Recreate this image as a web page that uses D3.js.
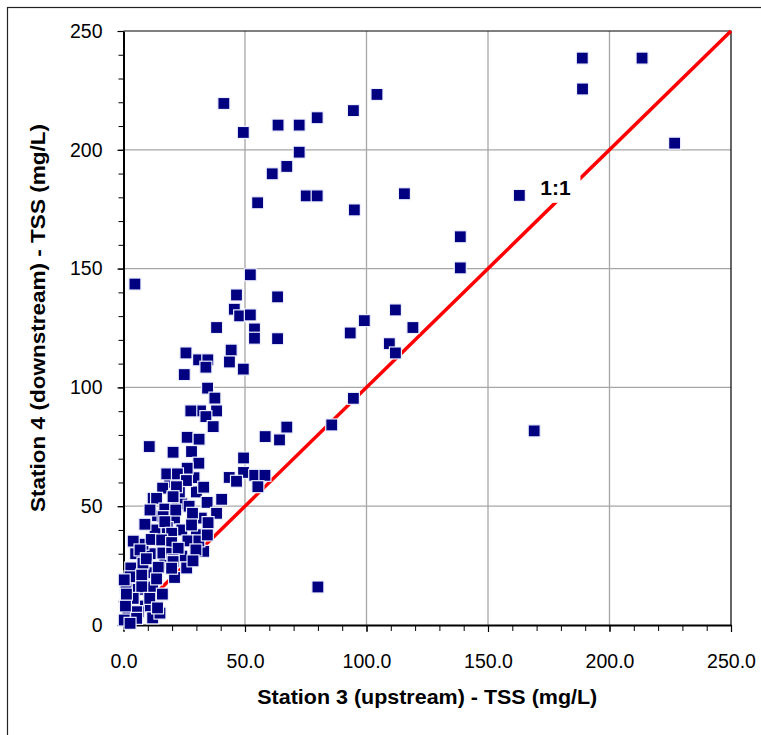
<!DOCTYPE html>
<html>
<head>
<meta charset="utf-8">
<script src="https://cdn.jsdelivr.net/npm/d3@7"></script>
<style>
  body { margin: 0; background: #fff; }
  text { font-family: "Liberation Sans", Arial, sans-serif; }
</style>
</head>
<body>
<svg id="chart" width="761" height="735"></svg>
<script>
// TSS pairs: upstream (station 3) vs downstream (station 4), mg/L
// the dense low corner comes first so the later ones sit on top
const station3 = [
  3, 5, 11, 8, 13, 21, 24, 12, 16, 2, 6, 10, 18, 24, 14, 30, 27, 32, 24, 17, 21, 9, 1, 12, 4,
  23, 19, 29, 33, 33, 30, 15, 8, 26,
  41.3, 49.3, 63.6, 72.3, 79.7, 94.6, 104.3, 72.3, 67.2, 61.2, 55.2, 75.2, 79.7, 95, 115.6,
  188.8, 213.4, 188.9, 226.8, 162.9, 138.6, 138.6, 169, 80, 4.7,
  52.2, 46.5, 63.4, 45.6, 47.8, 52.2, 38.3, 53.9, 53.9, 63.4, 25.7, 44.3, 30.9, 34.7, 33.9,
  43.6, 49.3, 25, 34.6, 37.6, 38.3, 31.7, 27.7, 33.9, 36.9, 10.6, 26.2, 31.1, 20.4, 28,
  31, 26.2, 17.8, 22.2, 25.9, 16.1, 21.8, 12.2, 20.4, 13.6, 20.4, 34.4, 40.4, 28.4, 38.3,
  34.8, 10.9, 17, 16.3, 21.5, 17, 28, 8.8, 19.8, 4, 11.4, 15.7, 19.8, 26.5, 31, 34.5,
  29.8, 6.8, 16.2, 19.8, 22.5, 9.4, 20.4, 20.4, 28.6, 14.3, 19.8, 2.7, 7.5, 7.5, 13.6, 0.3,
  7.5, 4, 10.8, 14, 1.8, 6.1, 5.4, 5.4, 0.3, 2.7, 0.8, 1.2,
  49.4, 49.4, 43.5, 46.5, 54, 58.2, 55.3, 58.3, 64.2, 67.2, 85.7, 94.6, 93.3, 99.1, 111.9,
  119.1, 109.4, 111.9
];
const station4 = [
  24, 30, 30, 34, 40, 45, 40, 16, 13, 12, 15, 22, 41, 51, 46, 56, 50, 45, 29, 26, 20, 8, 16, 3, 3,
  56, 60, 62, 58, 31, 38, 5, 26, 24,
  219.5, 207.3, 210.4, 210.4, 213.5, 216.5, 223.3, 199, 193, 189.9, 177.7, 180.6, 180.6, 174.7, 181.5,
  238.6, 238.6, 225.6, 202.8, 180.8, 163.4, 150.3, 81.7, 16, 143.5,
  147.4, 138.9, 138.1, 132.9, 130.1, 130.5, 125.2, 124.6, 120.7, 120.5, 114.5, 115.7, 111.6, 111.6, 108.5,
  110.7, 107.7, 105.4, 99.7, 95.5, 90.1, 90.1, 90.1, 87.7, 83.5, 75.1, 79, 78.2, 72.7, 73,
  68.1, 66, 63.6, 63.6, 60.8, 57.6, 58.2, 53.3, 53.3, 53.3, 54, 51.6, 52.9, 47, 47,
  43.1, 48.4, 48.8, 45.6, 48.4, 43.5, 42.1, 42.4, 38.6, 35.3, 36, 35.8, 34.7, 35.4, 35.4, 37.9,
  31.6, 31.6, 30.3, 30.2, 32.3, 27.9, 27.4, 26.7, 27, 24.3, 23.9, 20.3, 20.3, 21, 19.4, 19,
  16.1, 11.2, 11.2, 7.2, 5.6, 5.6, 5.6, 2.8, 2.1, 0.7, 8, 13,
  70.3, 64.2, 62.1, 60.5, 63, 63, 58.2, 79.3, 77.9, 83.3, 84.2, 95.4, 122.9, 128.1, 132.6,
  125.2, 118.4, 114.5
];
const xTicks = [0, 50, 100, 150, 200, 250];
const yTicks = [0, 50, 100, 150, 200, 250];
const minorTicks = d3.range(0, 251, 10);
const oneToOne = [0, 250];

const svg = d3.select("#chart");

const x = d3.scaleLinear().domain([0, 250]).range([123.5, 731]);
const y = d3.scaleLinear().domain([0, 250]).range([625, 31]);

// outer frame
svg.append("rect")
  .attr("x", 7.5).attr("y", 7.5)
  .attr("width", 800).attr("height", 800)
  .attr("fill", "none").attr("stroke", "#222").attr("stroke-width", 1.2);

// grid
svg.append("g").selectAll("line")
  .data(xTicks.slice(1, -1))
  .join("line")
  .attr("x1", d => x(d)).attr("x2", d => x(d))
  .attr("y1", y(0)).attr("y2", y(250))
  .attr("stroke", "#a6a6a6").attr("stroke-width", 1.3);
svg.append("g").selectAll("line")
  .data(yTicks.slice(1, -1))
  .join("line")
  .attr("x1", x(0)).attr("x2", x(250))
  .attr("y1", d => y(d)).attr("y2", d => y(d))
  .attr("stroke", "#a6a6a6").attr("stroke-width", 1.3);

// plot border (top, right)
svg.append("path")
  .attr("d", `M${x(0)},${y(250)}H${x(250)}V${y(0)}`)
  .attr("fill", "none").attr("stroke", "#000").attr("stroke-width", 1.2);

// 1:1 line
svg.append("line")
  .attr("x1", x(oneToOne[0])).attr("y1", y(oneToOne[0]))
  .attr("x2", x(oneToOne[1])).attr("y2", y(oneToOne[1]))
  .attr("stroke", "#ff0000").attr("stroke-width", 3.5);

// minor ticks
svg.append("g")
  .attr("transform", `translate(0,${y(0)})`)
  .call(d3.axisBottom(x).tickValues(minorTicks).tickSize(6).tickFormat(""))
  .call(g => g.select(".domain").remove());
svg.append("g")
  .attr("transform", `translate(${x(0)},0)`)
  .call(d3.axisLeft(y).tickValues(minorTicks).tickSize(5).tickFormat(""))
  .call(g => g.select(".domain").remove());

// major axes
const xAxis = svg.append("g")
  .attr("transform", `translate(0,${y(0)})`)
  .call(d3.axisBottom(x).tickValues(xTicks).tickSize(7).tickPadding(22).tickSizeOuter(0)
    .tickFormat(d3.format(".1f")));
const yAxis = svg.append("g")
  .attr("transform", `translate(${x(0)},0)`)
  .call(d3.axisLeft(y).tickValues(yTicks).tickSize(6).tickPadding(15).tickSizeOuter(0));

[xAxis, yAxis].forEach(g => {
  g.select(".domain").attr("stroke", "#000").attr("stroke-width", 2);
  g.selectAll(".tick line").attr("stroke", "#000").attr("stroke-width", 1.2);
  g.selectAll(".tick text")
    .attr("fill", "#000")
    .style("font-size", "19.5px")
    .style("font-family", "'Liberation Sans', Arial, sans-serif");
});

// points
const pts = station3.map((v, i) => [v, station4[i]]);
svg.append("g").selectAll("rect")
  .data(pts)
  .join("rect")
  .attr("x", d => x(d[0]) - 6)
  .attr("y", d => y(d[1]) - 6)
  .attr("width", 12).attr("height", 12)
  .attr("fill", "#000080")
  .attr("stroke", "#eef0ff").attr("stroke-width", 1.2);

// 1:1 label with white box
const lx = x(179), ly = y(184);
svg.append("rect")
  .attr("x", lx - 22).attr("y", ly - 15)
  .attr("width", 44).attr("height", 30)
  .attr("fill", "#fff");
svg.append("text")
  .attr("x", lx - 3).attr("y", ly + 7)
  .attr("text-anchor", "middle")
  .style("font-size", "21px").style("font-weight", "bold")
  .text("1:1");

// axis titles
svg.append("text")
  .attr("x", (x(0) + x(250)) / 2).attr("y", 704)
  .attr("text-anchor", "middle")
  .attr("textLength", 340).attr("lengthAdjust", "spacingAndGlyphs")
  .style("font-size", "21px").style("font-weight", "bold")
  .text("Station 3 (upstream) - TSS (mg/L)");

svg.append("text")
  .attr("transform", `translate(45,318) rotate(-90)`)
  .attr("text-anchor", "middle")
  .attr("textLength", 388).attr("lengthAdjust", "spacingAndGlyphs")
  .style("font-size", "21px").style("font-weight", "bold")
  .text("Station 4 (downstream) - TSS (mg/L)");
</script>
</body>
</html>
